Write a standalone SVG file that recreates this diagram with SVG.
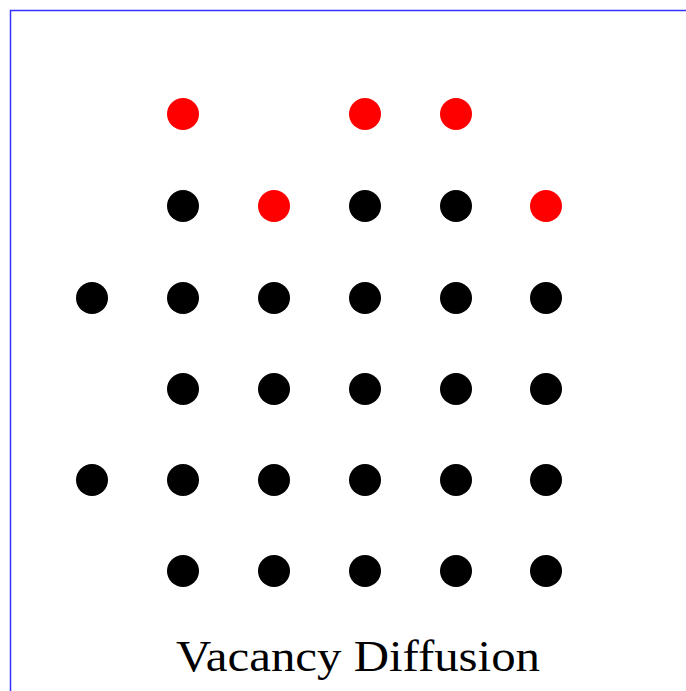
<svg xmlns="http://www.w3.org/2000/svg" width="686" height="691" viewBox="0 0 686 691">
<style>
.r{fill:#ff0000}
.b{fill:#000000}
.t{font-family:"Liberation Serif","Times New Roman",serif;font-size:44px;fill:#000}
</style>
<rect width="686" height="691" fill="#fff"/>
<path d="M10.5 691V10.5H686" fill="none" stroke="#3333ff" stroke-width="1.5"/>
<g id="row1">
<circle class="r" cx="183" cy="114" r="16"/>
<circle class="r" cx="365" cy="114" r="16"/>
<circle class="r" cx="456" cy="114" r="16"/>
</g>
<g id="row2">
<circle class="b" cx="183" cy="206" r="16"/>
<circle class="r" cx="274" cy="206" r="16"/>
<circle class="b" cx="365" cy="206" r="16"/>
<circle class="b" cx="456" cy="206" r="16"/>
<circle class="r" cx="546" cy="206" r="16"/>
</g>
<g id="row3">
<circle class="b" cx="92" cy="298" r="16"/>
<circle class="b" cx="183" cy="298" r="16"/>
<circle class="b" cx="274" cy="298" r="16"/>
<circle class="b" cx="365" cy="298" r="16"/>
<circle class="b" cx="456" cy="298" r="16"/>
<circle class="b" cx="546" cy="298" r="16"/>
</g>
<g id="row4">
<circle class="b" cx="183" cy="389" r="16"/>
<circle class="b" cx="274" cy="389" r="16"/>
<circle class="b" cx="365" cy="389" r="16"/>
<circle class="b" cx="456" cy="389" r="16"/>
<circle class="b" cx="546" cy="389" r="16"/>
</g>
<g id="row5">
<circle class="b" cx="92" cy="480" r="16"/>
<circle class="b" cx="183" cy="480" r="16"/>
<circle class="b" cx="274" cy="480" r="16"/>
<circle class="b" cx="365" cy="480" r="16"/>
<circle class="b" cx="456" cy="480" r="16"/>
<circle class="b" cx="546" cy="480" r="16"/>
</g>
<g id="row6">
<circle class="b" cx="183" cy="571" r="16"/>
<circle class="b" cx="274" cy="571" r="16"/>
<circle class="b" cx="365" cy="571" r="16"/>
<circle class="b" cx="456" cy="571" r="16"/>
<circle class="b" cx="546" cy="571" r="16"/>
</g>
<text class="t" x="176" y="671" textLength="364" lengthAdjust="spacingAndGlyphs">Vacancy Diffusion</text>
</svg>
